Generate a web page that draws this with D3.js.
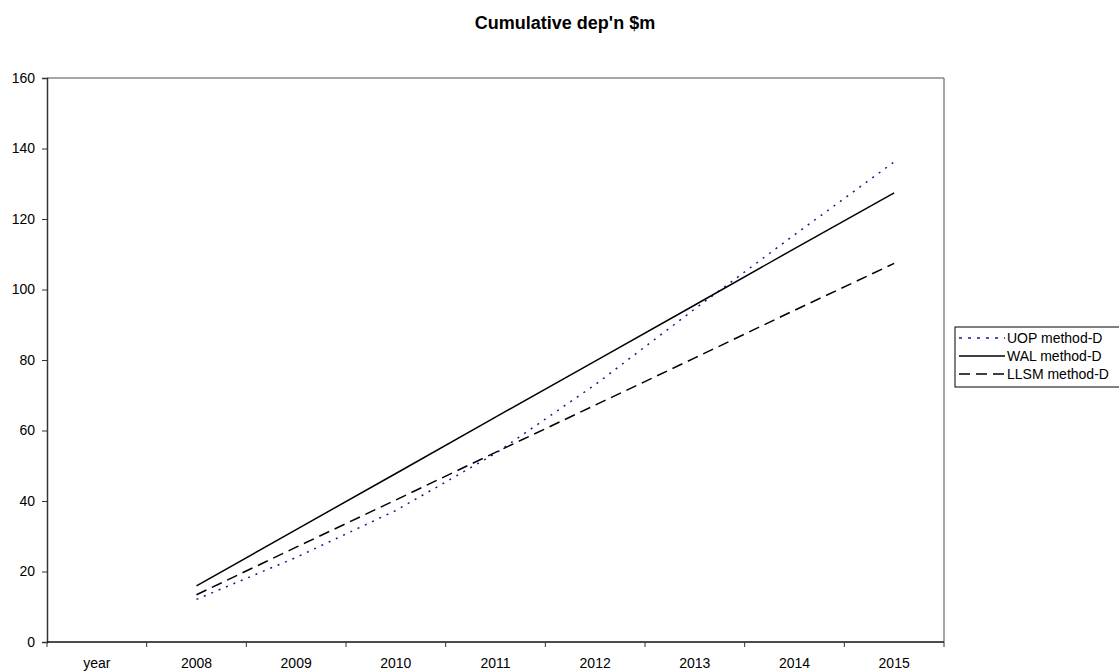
<!DOCTYPE html>
<html>
<head>
<meta charset="utf-8">
<script src="https://cdnjs.cloudflare.com/ajax/libs/d3/7.8.5/d3.min.js"></script>
<style>
body { margin: 0; background: #fff; }
text { font-family: "Liberation Sans", Arial, sans-serif; }
</style>
</head>
<body>
<div id="graph"></div>
<script>
// categories along the bottom (first one is the header cell "year")
var categories = ["year", "2008", "2009", "2010", "2011", "2012", "2013", "2014", "2015"];
var years = ["2008", "2009", "2010", "2011", "2012", "2013", "2014", "2015"];

var uop = [12.1, 24.0, 37.3, 53.5, 73.0, 94.5, 115.5, 136.2];
var wal = [15.9, 31.9, 47.8, 63.8, 79.7, 95.6, 111.6, 127.4];
var llsm = [13.4, 26.9, 40.3, 53.8, 67.2, 80.6, 94.1, 107.4];

var yTicks = [0, 20, 40, 60, 80, 100, 120, 140, 160];

var series = [
  {name: "UOP method-D", values: uop, color: "#1a1a90", dash: "2,6", legDash: "3,6"},
  {name: "WAL method-D", values: wal, color: "#000", dash: null, legDash: null},
  {name: "LLSM method-D", values: llsm, color: "#000", dash: "11,6", legDash: "11,6"}
];

function drawChart(){
  var W = 1119, H = 671;
  var pLeft = 47, pRight = 944, pTop = 78, pBottom = 642;

  var svg = d3.select("#graph").append("svg")
    .attr("width", W).attr("height", H);

  var x = d3.scaleBand().domain(categories).range([pLeft, pRight]);
  var y = d3.scaleLinear().domain([0, 160]).range([pBottom, pTop]);

  // title
  svg.append("text")
    .attr("x", 565).attr("y", 29)
    .attr("text-anchor", "middle")
    .attr("font-size", "18px").attr("font-weight", "bold")
    .text("Cumulative dep'n $m");

  // plot frame (top + right grey)
  svg.append("line").attr("x1", pLeft).attr("x2", pRight).attr("y1", pTop).attr("y2", pTop)
    .attr("stroke", "#888").attr("stroke-width", 1.5);
  svg.append("line").attr("x1", pRight).attr("x2", pRight).attr("y1", pTop).attr("y2", pBottom)
    .attr("stroke", "#888").attr("stroke-width", 1.5);

  // y axis
  var yAxis = d3.axisLeft(y).tickValues(yTicks).tickSize(5).tickPadding(7);
  var gy = svg.append("g").attr("transform", "translate(" + pLeft + ",0)").call(yAxis);
  gy.select(".domain").attr("stroke", "#333").attr("stroke-width", 1.5);
  gy.selectAll(".tick line").attr("stroke", "#333");
  gy.selectAll("text").attr("font-size", "14px").attr("fill", "#000")
    .attr("font-family", "Liberation Sans, Arial, sans-serif");

  // x axis, ticks between categories
  var gx = svg.append("g").attr("transform", "translate(0," + pBottom + ")");
  gx.append("line").attr("x1", pLeft).attr("x2", pRight).attr("stroke", "#111").attr("stroke-width", 1.5);
  var bounds = categories.map(function(c) { return x(c); }).concat([pRight]);
  gx.selectAll("line.tk").data(bounds).enter().append("line")
    .attr("class", "tk")
    .attr("x1", function(d) { return d; }).attr("x2", function(d) { return d; })
    .attr("y1", 0).attr("y2", 5).attr("stroke", "#333");
  gx.selectAll("text").data(categories).enter().append("text")
    .attr("x", function(d) { return x(d) + x.bandwidth() / 2; })
    .attr("y", 26)
    .attr("text-anchor", "middle")
    .attr("font-size", "14px")
    .text(function(d) { return d; });

  // lines
  var line = d3.line()
    .x(function(d, i) { return x(years[i]) + x.bandwidth() / 2; })
    .y(function(d) { return y(d); });

  svg.selectAll("path.series").data(series).enter().append("path")
    .attr("class", "series")
    .attr("d", function(s) { return line(s.values); })
    .attr("fill", "none")
    .attr("stroke", function(s) { return s.color; })
    .attr("stroke-width", 1.5)
    .attr("stroke-dasharray", function(s) { return s.dash; });

  // legend
  var lg = svg.append("g").attr("transform", "translate(955,327)");
  lg.append("rect").attr("x", 0).attr("y", 0).attr("width", 170).attr("height", 60)
    .attr("fill", "#fff").attr("stroke", "#000").attr("stroke-width", 1);
  var row = lg.selectAll("g.row").data(series).enter().append("g")
    .attr("class", "row")
    .attr("transform", function(d, i) { return "translate(0," + (11 + i * 18) + ")"; });
  row.append("line").attr("x1", 4).attr("x2", 50).attr("y1", 0).attr("y2", 0)
    .attr("stroke", function(s) { return s.color; })
    .attr("stroke-width", 1.5)
    .attr("stroke-dasharray", function(s) { return s.legDash; });
  row.append("text").attr("x", 52).attr("y", 5).attr("font-size", "14px")
    .text(function(s) { return s.name; });
}
drawChart();
</script>
</body>
</html>
